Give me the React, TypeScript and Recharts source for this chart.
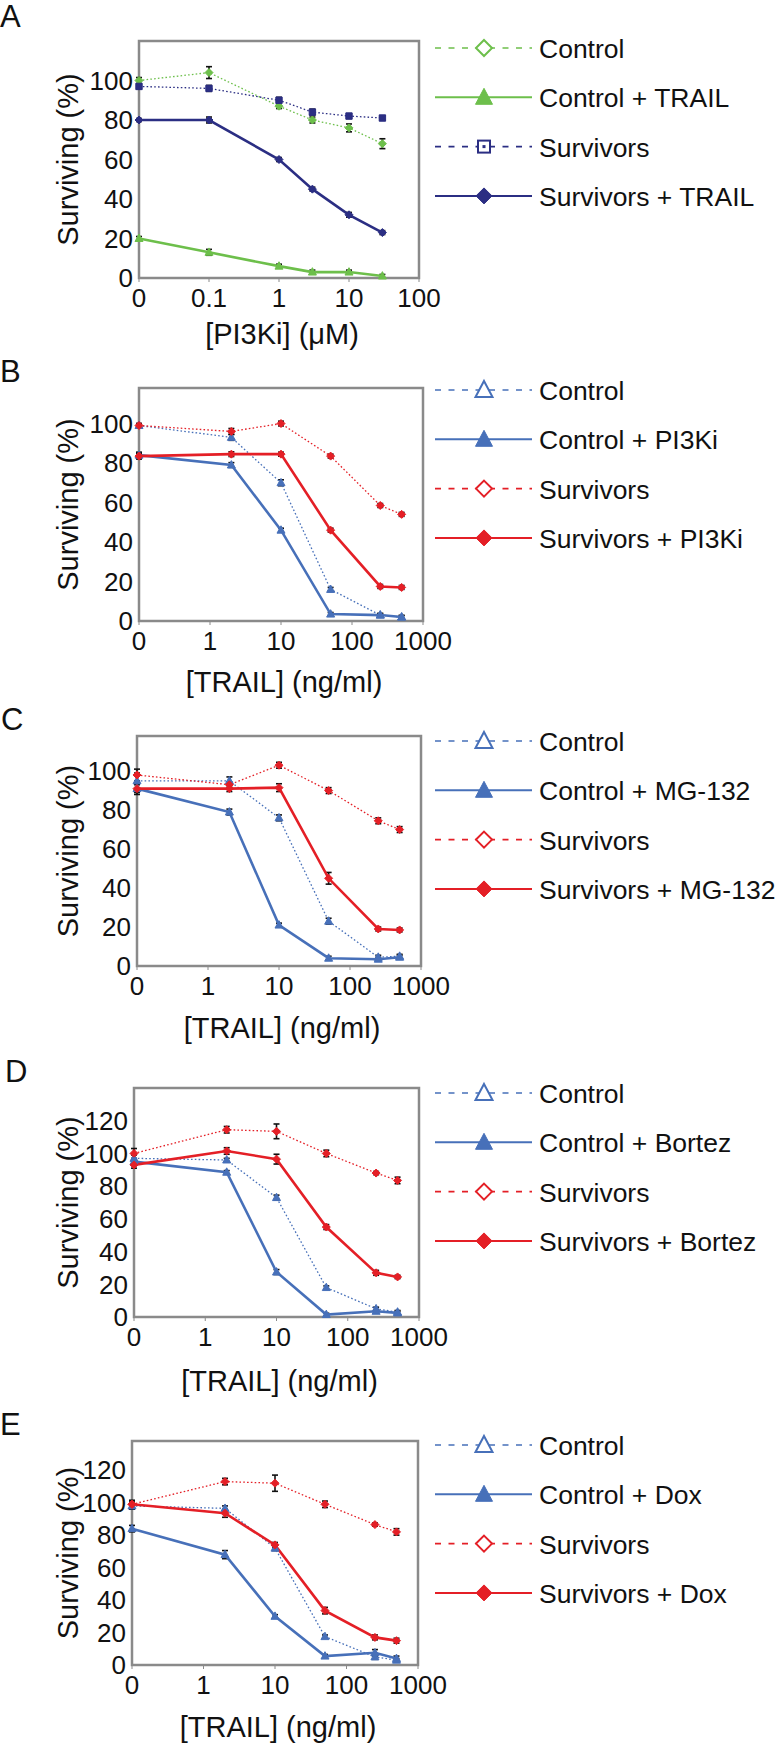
import React from "react";
import { LineChart, Line, XAxis, YAxis, ErrorBar, ReferenceArea } from "recharts";

const FONT = "'Liberation Sans', Arial, Helvetica, sans-serif";

const GREEN = "#6dbf4b";
const NAVY = "#2b2e83";
const BLUE = "#4770b9";
const RED = "#e41f26";
const FRAME = "#8a8a8a";

// doses; the "0" dose sits one decade below the first labelled tick
const pi3kDoses = [0, 0.1, 1, 3, 10, 30];
const trailDoses = [0, 2, 10, 50, 250, 500];

const pi3kTicks = [0.01, 0.1, 1, 10, 100];
const pi3kTickLabels = ["0", "0.1", "1", "10", "100"];
const trailTicks = [0.1, 1, 10, 100, 1000];
const trailTickLabels = ["0", "1", "10", "100", "1000"];

const yTicks100 = [0, 20, 40, 60, 80, 100];
const yTicks120 = [0, 20, 40, 60, 80, 100, 120];

// A - PI3Ki +/- TRAIL
const aControl = [100, 104, 87, 80, 76, 68];
const aControlErr = [1.5, 3, 1.2, 1.5, 2, 2.5];
const aControlTrail = [20, 13, 6, 3, 3, 1];
const aControlTrailErr = [1, 1.5, 1, 1, 1, 0.8];
const aSurvivors = [97, 96, 90, 84, 82, 81];
const aSurvivorsErr = [1.2, 1.5, 1.5, 1.5, 1.2, 1];
const aSurvivorsTrail = [80, 80, 60, 45, 32, 23];
const aSurvivorsTrailErr = [0.8, 1.5, 1, 1, 1.2, 1];

// B - TRAIL +/- PI3Ki
const bControl = [99, 93, 70, 16, 3, 2];
const bControlErr = [1, 1.5, 1.5, 1, 0.8, 0.8];
const bControlPi = [84, 79, 46, 3.5, 3, 2];
const bControlPiErr = [1.5, 1.2, 1, 0.8, 0.8, 0.8];
const bSurvivors = [99, 96, 100, 83.5, 58.5, 54];
const bSurvivorsErr = [1, 1.5, 1.2, 1, 1, 1];
const bSurvivorsPi = [83.5, 84.5, 84.5, 46, 17.5, 17];
const bSurvivorsPiErr = [1.5, 1.2, 1, 1, 1, 1];

// C - TRAIL +/- MG-132
const cControl = [95, 95, 76, 23, 4.5, 5];
const cControlErr = [4, 2, 1.5, 1.5, 1, 1];
const cControlMg = [91, 79, 21, 4, 3.5, 4.5];
const cControlMgErr = [3, 1.5, 1, 1, 1, 1];
const cSurvivors = [98, 93, 103, 90, 74.5, 70];
const cSurvivorsErr = [3, 1.5, 1.5, 1.5, 1.5, 1.5];
const cSurvivorsMg = [91, 91, 91.5, 45, 19, 18.5];
const cSurvivorsMgErr = [2, 1.5, 2, 3, 1, 1];

// D - TRAIL +/- Bortezomib
const dControl = [97, 96, 73, 18, 5, 3];
const dControlErr = [2, 1, 1.5, 1, 1, 1];
const dControlBz = [95, 88.5, 27.5, 1.5, 3.5, 2.5];
const dControlBzErr = [1.5, 1, 1.5, 0.8, 1, 1];
const dSurvivors = [100, 114.5, 113.5, 100, 88, 83.5];
const dSurvivorsErr = [3, 2, 4.5, 2, 1, 2];
const dSurvivorsBz = [93, 101.5, 96.5, 55, 27, 24.5];
const dSurvivorsBzErr = [2, 2, 3, 1.5, 1.5, 1];

// E - TRAIL +/- Doxorubicin
const eControl = [98, 96.5, 72, 17.5, 5, 3];
const eControlErr = [2, 1.5, 1.5, 1, 1.5, 1];
const eControlDox = [84, 68, 30, 5.5, 7.5, 4];
const eControlDoxErr = [2, 2.5, 1, 1, 2, 1.5];
const eSurvivors = [99, 113, 112, 99, 86.5, 82];
const eSurvivorsErr = [2.5, 2, 5, 2, 1, 2];
const eSurvivorsDox = [99, 93.5, 74, 33.5, 17, 15];
const eSurvivorsDoxErr = [2, 2.5, 1.5, 2, 1.5, 1.5];

type Shape = "triangle" | "diamond" | "square";

type Series = {
  name: string;
  values: number[];
  errors: number[];
  color: string;
  dotted: boolean;
  shape: Shape;
};

type PanelDef = {
  letter: string;
  letterX: number;
  box: { left: number; right: number; top: number; bottom: number };
  yMax: number;
  yTicks: number[];
  doses: number[];
  xTicks: number[];
  xTickLabels: string[];
  xLabel: string;
  xLabelOff: number;
  legendTop: number;
  series: Series[];
};

function trailSeries(drug: string, c: number[], ce: number[], cd: number[], cde: number[], s: number[], se: number[], sd: number[], sde: number[]): Series[] {
  return [
    { name: "Control", values: c, errors: ce, color: BLUE, dotted: true, shape: "triangle" },
    { name: "Control + " + drug, values: cd, errors: cde, color: BLUE, dotted: false, shape: "triangle" },
    { name: "Survivors", values: s, errors: se, color: RED, dotted: true, shape: "diamond" },
    { name: "Survivors + " + drug, values: sd, errors: sde, color: RED, dotted: false, shape: "diamond" },
  ];
}

const panels: PanelDef[] = [
  {
    letter: "A", letterX: 0,
    box: { left: 139, right: 419, top: 41, bottom: 278 },
    yMax: 120, yTicks: yTicks100,
    doses: pi3kDoses, xTicks: pi3kTicks, xTickLabels: pi3kTickLabels,
    xLabel: "[PI3Ki] (\u03BCM)", xLabelOff: 56, legendTop: 48,
    series: [
      { name: "Control", values: aControl, errors: aControlErr, color: GREEN, dotted: true, shape: "diamond" },
      { name: "Control + TRAIL", values: aControlTrail, errors: aControlTrailErr, color: GREEN, dotted: false, shape: "triangle" },
      { name: "Survivors", values: aSurvivors, errors: aSurvivorsErr, color: NAVY, dotted: true, shape: "square" },
      { name: "Survivors + TRAIL", values: aSurvivorsTrail, errors: aSurvivorsTrailErr, color: NAVY, dotted: false, shape: "diamond" },
    ],
  },
  {
    letter: "B", letterX: 0,
    box: { left: 139, right: 423, top: 388, bottom: 621 },
    yMax: 118, yTicks: yTicks100,
    doses: trailDoses, xTicks: trailTicks, xTickLabels: trailTickLabels,
    xLabel: "[TRAIL] (ng/ml)", xLabelOff: 61, legendTop: 390,
    series: trailSeries("PI3Ki", bControl, bControlErr, bControlPi, bControlPiErr, bSurvivors, bSurvivorsErr, bSurvivorsPi, bSurvivorsPiErr),
  },
  {
    letter: "C", letterX: 1,
    box: { left: 137, right: 421, top: 736, bottom: 966 },
    yMax: 118, yTicks: yTicks100,
    doses: trailDoses, xTicks: trailTicks, xTickLabels: trailTickLabels,
    xLabel: "[TRAIL] (ng/ml)", xLabelOff: 62, legendTop: 741,
    series: trailSeries("MG-132", cControl, cControlErr, cControlMg, cControlMgErr, cSurvivors, cSurvivorsErr, cSurvivorsMg, cSurvivorsMgErr),
  },
  {
    letter: "D", letterX: 5,
    box: { left: 134, right: 419, top: 1088, bottom: 1317 },
    yMax: 140, yTicks: yTicks120,
    doses: trailDoses, xTicks: trailTicks, xTickLabels: trailTickLabels,
    xLabel: "[TRAIL] (ng/ml)", xLabelOff: 64, legendTop: 1093,
    series: trailSeries("Bortez", dControl, dControlErr, dControlBz, dControlBzErr, dSurvivors, dSurvivorsErr, dSurvivorsBz, dSurvivorsBzErr),
  },
  {
    letter: "E", letterX: 0,
    box: { left: 132, right: 418, top: 1441, bottom: 1665 },
    yMax: 138, yTicks: yTicks120,
    doses: trailDoses, xTicks: trailTicks, xTickLabels: trailTickLabels,
    xLabel: "[TRAIL] (ng/ml)", xLabelOff: 62, legendTop: 1445,
    series: trailSeries("Dox", eControl, eControlErr, eControlDox, eControlDoxErr, eSurvivors, eSurvivorsErr, eSurvivorsDox, eSurvivorsDoxErr),
  },
];

function markPath(shape: Shape, cx: number, cy: number, r: number) {
  if (shape === "triangle") {
    return `M${cx},${cy - r * 1.1}L${cx + r},${cy + r * 0.75}L${cx - r},${cy + r * 0.75}Z`;
  }
  if (shape === "diamond") {
    return `M${cx},${cy - r}L${cx + r},${cy}L${cx},${cy + r}L${cx - r},${cy}Z`;
  }
  return `M${cx - r * 0.8},${cy - r * 0.8}h${r * 1.6}v${r * 1.6}h${-r * 1.6}Z`;
}

function makeDot(s: Series) {
  return (props: any) => {
    const { cx, cy, index } = props;
    if (cx == null || cy == null) return <g key={`n-${index}`} />;
    return <path key={`d-${s.name}-${index}`} d={markPath(s.shape, cx, cy, 4)} fill={s.color} stroke={s.color} strokeWidth={1} />;
  };
}

function YLabel(props: any) {
  const vb = props.viewBox || { y: 0, height: 0 };
  const cy = vb.y + vb.height / 2;
  return (
    <text x={68} y={cy} transform={`rotate(-90, 68, ${cy})`} textAnchor="middle" dominantBaseline="central" fontSize={29} fontFamily={FONT} fill="#111">
      Surviving (%)
    </text>
  );
}

function XLabel(props: any) {
  const vb = props.viewBox || { x: 0, y: 0, width: 0 };
  return (
    <text x={vb.x + vb.width / 2 + 3} y={vb.y + props.off + 10} textAnchor="middle" fontSize={29} fontFamily={FONT} fill="#111">
      {props.text}
    </text>
  );
}

const RIGHT_PAD = 50;

function Panel({ p }: { p: PanelDef }) {
  const rows = p.doses.map((d, i) => {
    const row: Record<string, number> = { x: d === 0 ? p.xTicks[0] : d };
    p.series.forEach((s, k) => {
      row["v" + k] = s.values[i];
      row["e" + k] = s.errors[i];
    });
    return row;
  });
  const plotH = p.box.bottom - p.box.top;
  const width = p.box.right + RIGHT_PAD;
  const height = plotH + 10 + 80;
  const xMin = p.xTicks[0];
  const xMax = p.xTicks[p.xTicks.length - 1];
  const tickStyle = { fontSize: 26, fill: "#111", fontFamily: FONT };
  // dotted series first so the solid ones sit on top
  const order = [0, 2, 1, 3];

  return (
    <div style={{ position: "absolute", left: 0, top: p.box.top - 10 }}>
      <LineChart width={width} height={height} data={rows} margin={{ top: 10, right: RIGHT_PAD, bottom: 0, left: 0 }} style={{ overflow: "visible" }}>
        <ReferenceArea x1={xMin} x2={xMax} y1={0} y2={p.yMax} fill="none" stroke={FRAME} strokeWidth={2.5} ifOverflow="visible" />
        <XAxis
          dataKey="x"
          type="number"
          scale="log"
          domain={[xMin, xMax]}
          ticks={p.xTicks}
          interval={0}
          tickFormatter={(v: number) => p.xTickLabels[p.xTicks.indexOf(v)] ?? ""}
          height={80}
          axisLine={false}
          tickSize={4}
          tickMargin={7}
          tickLine={{ stroke: FRAME }}
          tick={tickStyle}
          label={<XLabel text={p.xLabel} off={p.xLabelOff} />}
        />
        <YAxis
          type="number"
          domain={[0, p.yMax]}
          ticks={p.yTicks}
          interval={0}
          width={p.box.left}
          axisLine={false}
          tickLine={false}
          tickSize={0}
          tickMargin={6}
          tick={tickStyle}
          label={<YLabel />}
        />
        {order.map((k) => {
          const s = p.series[k];
          return (
            <Line
              key={s.name}
              dataKey={"v" + k}
              name={s.name}
              stroke={s.color}
              strokeWidth={s.dotted ? 1.3 : 2.6}
              strokeDasharray={s.dotted ? "1.6 2.2" : undefined}
              dot={makeDot(s)}
              activeDot={false}
              isAnimationActive={false}
            >
              <ErrorBar dataKey={"e" + k} direction="y" width={3} strokeWidth={1.6} stroke="#111" isAnimationActive={false} />
            </Line>
          );
        })}
      </LineChart>
    </div>
  );
}

function LegendMark({ s, cx, cy }: { s: Series; cx: number; cy: number }) {
  const open = s.dotted;
  if (s.shape === "square") {
    return (
      <g>
        <rect x={cx - 6} y={cy - 6} width={12} height={12} fill="#fff" stroke={s.color} strokeWidth={2} />
        <rect x={cx - 1.5} y={cy - 1.5} width={3} height={3} fill={s.color} />
      </g>
    );
  }
  if (s.shape === "triangle") {
    const d = `M${cx},${cy - 9}L${cx + 8.5},${cy + 7}L${cx - 8.5},${cy + 7}Z`;
    return <path d={d} fill={open ? "#fff" : s.color} stroke={s.color} strokeWidth={open ? 2 : 1} />;
  }
  const d = `M${cx},${cy - 8}L${cx + 8},${cy}L${cx},${cy + 8}L${cx - 8},${cy}Z`;
  return <path d={d} fill={open ? "#fff" : s.color} stroke={s.color} strokeWidth={open ? 2 : 1} />;
}

function Overlay() {
  return (
    <svg width={780} height={1750} style={{ position: "absolute", left: 0, top: 0, pointerEvents: "none" }}>
      {panels.map((p) => (
        <g key={p.letter}>
          <text x={p.letterX} y={p.letter === "A" ? 27 : p.box.top - 6} fontSize={31} fontFamily={FONT} fill="#111">
            {p.letter}
          </text>
          {p.series.map((s, i) => {
            const cy = p.legendTop + i * 49.3;
            return (
              <g key={s.name}>
                <line
                  x1={435}
                  x2={532}
                  y1={cy}
                  y2={cy}
                  stroke={s.color}
                  strokeWidth={s.dotted ? 1.6 : 2}
                  strokeDasharray={s.dotted ? "6 7.5" : undefined}
                />
                <LegendMark s={s} cx={484} cy={cy} />
                <text x={539} y={cy + 10} fontSize={26.5} fontFamily={FONT} fill="#111">
                  {s.name}
                </text>
              </g>
            );
          })}
        </g>
      ))}
    </svg>
  );
}

export default function App() {
  return (
    <div style={{ position: "absolute", left: 0, top: 0, width: 780, height: 1750, background: "#fff", fontFamily: FONT }}>
      {panels.map((p) => (
        <Panel key={p.letter} p={p} />
      ))}
      <Overlay />
    </div>
  );
}
